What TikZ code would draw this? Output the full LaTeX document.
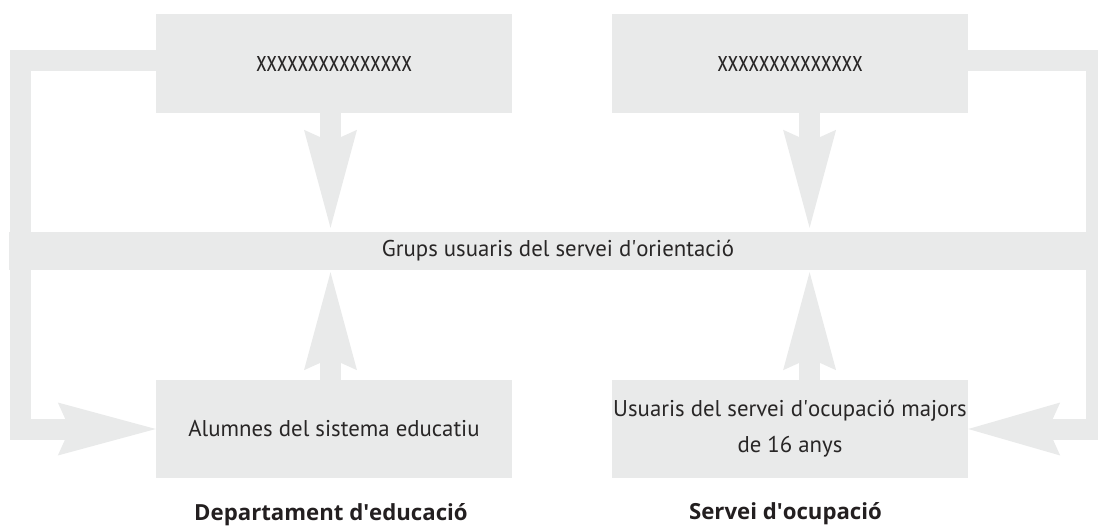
\documentclass[tikz,border=0pt]{standalone}
\usepackage{fontspec}
\setmainfont{PT Sans}
\newfontfamily\lblfont{Open Sans}
\usetikzlibrary{arrows.meta,calc}
\definecolor{boxgray}{RGB}{233,234,234}
\definecolor{txtgray}{RGB}{40,38,38}
\definecolor{lblblack}{RGB}{35,31,32}
\newcommand\ap{\textquotesingle}
\tikzset{
  box/.style={fill=boxgray, draw=none, inner sep=0pt, minimum width=356pt, minimum height=99pt,
              text=txtgray, font=\fontsize{22.8}{36}\selectfont, align=center},
  conn/.style={draw=boxgray, line width=21pt, line join=miter, line cap=butt},
  bigtip/.style={-{Stealth[length=#1, width=53pt, inset=12pt, line width=0pt]}},
  bigtip/.default=98pt,
  lbl/.style={anchor=base, inner sep=0pt, text=lblblack, font=\lblfont\fontsize{22.2}{26}\selectfont\bfseries}
}
\begin{document}
\begin{tikzpicture}[x=1pt, y=-1pt]
\useasboundingbox (0,0) rectangle (1098,530);
\clip (0,0) rectangle (1098,530);
% boxes
\node[box] (tl) at (334,63.5) {\resizebox{156pt}{15pt}{xxxxxxxxxxxxxxx}};
\node[box] (tr) at (790,63.5) {\resizebox{145.5pt}{15pt}{xxxxxxxxxxxxxx}};
\node[box, minimum height=98pt] (bl) at (334,429) {Alumnes del sistema educatiu};
\node[box, minimum height=98pt] (br) at (790,429) {Usuaris del servei d\ap ocupació majors\\de 16 anys};
\node[box, minimum width=1098pt, minimum height=38pt] (band) at (558,251) {Grups usuaris del servei d\ap orientació};
% connectors
\draw[conn, bigtip, shorten >=4pt] ([xshift=-3.5pt]tl.south) -- ([xshift=-3.5pt]tl.south |- band.north);
\draw[conn, bigtip, shorten >=4pt] ([xshift=19.6pt]tr.south) -- ([xshift=19.6pt]tr.south |- band.north);
\draw[conn, bigtip, shorten >=2pt] ([xshift=-3.5pt]bl.north) -- ([xshift=-3.5pt]bl.north |- band.south);
\draw[conn, bigtip, shorten >=2pt] ([xshift=19.6pt]br.north) -- ([xshift=19.6pt]br.north |- band.south);
\coordinate (lcorner) at (20,60.5);
\coordinate (rcorner) at (1096.5,60.5);
\draw[conn, bigtip=98pt] ([yshift=3pt]tl.west) -- (lcorner) |- (bl.west);
\draw[conn, bigtip=92pt] ([yshift=3pt]tr.east) -- (rcorner) |- (br.east);
% labels
\node[lbl] (dep) at (331,520) {Departament d\ap educació};
\node[lbl] (ser) at (785.5,519.5) {Servei d\ap ocupació};
\end{tikzpicture}
\end{document}
